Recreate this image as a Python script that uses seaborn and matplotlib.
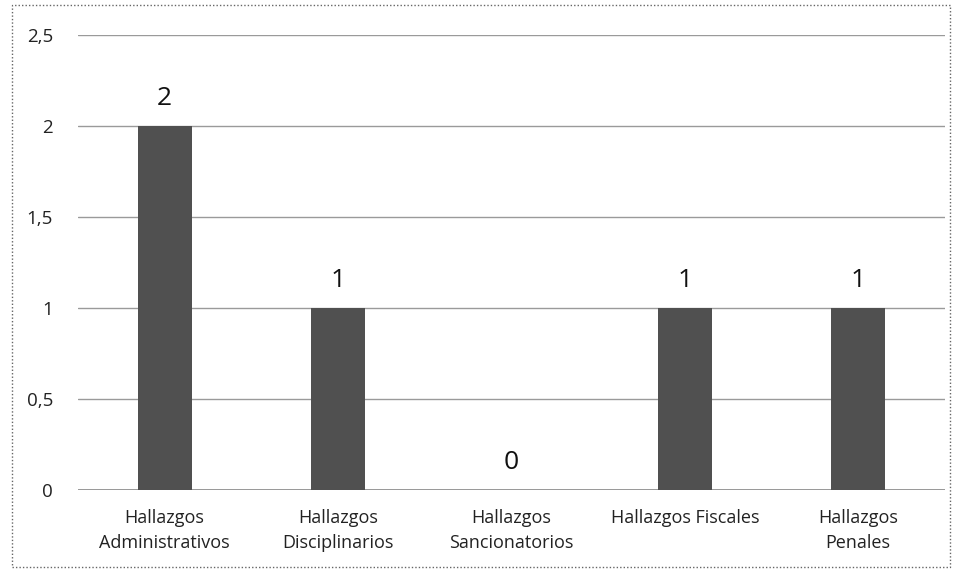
import matplotlib
matplotlib.use("Agg")
import matplotlib.pyplot as plt
import matplotlib.patches as mpatches
from matplotlib.ticker import FuncFormatter
import seaborn as sns
import pandas as pd

categorias = ["Hallazgos\nAdministrativos", "Hallazgos\nDisciplinarios",
              "Hallazgos\nSancionatorios", "Hallazgos Fiscales", "Hallazgos\nPenales"]
valores = [2, 1, 0, 1, 1]
ticks_y = [0, 0.5, 1, 1.5, 2, 2.5]

sns.set_theme(style="white")
plt.rcParams["font.family"] = ["Open Sans", "DejaVu Sans"]

df = pd.DataFrame({"categoria": categorias, "valor": valores})

fig = plt.figure(figsize=(9.59, 5.79), dpi=100)
ax = fig.add_axes([0.0813, 0.1537, 0.904, 0.7858])

sns.barplot(data=df, x="categoria", y="valor", color="#505050", width=0.31,
            saturation=1, linewidth=0, ax=ax, zorder=3)

ax.set_ylim(0, 2.5)
ax.set_yticks(ticks_y)
ax.yaxis.set_major_formatter(FuncFormatter(lambda v, _: f"{v:g}".replace(".", ",")))
ax.grid(axis="y", color="#9a9a9a", linewidth=1.0, zorder=0)
ax.set_xlabel("")
ax.set_ylabel("")
for s in ax.spines.values():
    s.set_visible(False)
ax.axhline(0, color="#8a8a8a", linewidth=1.2, zorder=2)
ax.tick_params(axis="y", labelsize=13.5, colors="#222222", pad=18, length=0)
ax.tick_params(axis="x", labelsize=13, colors="#222222", pad=14, length=0)
for lbl in ax.get_xticklabels():
    lbl.set_linespacing(1.45)

for i, v in enumerate(valores):
    ax.text(i, v + 0.08, f"{v}", ha="center", va="bottom", fontsize=19, color="#111111")

# dotted frame around the chart area
fig.patches.append(mpatches.Rectangle((12 / 959, 1 - 567 / 579), 938 / 959, 562 / 579,
                                      transform=fig.transFigure, fill=False,
                                      edgecolor="#666666", linewidth=1.0,
                                      linestyle=(0, (1, 1.5))))

fig.savefig("out.png", dpi=100)
